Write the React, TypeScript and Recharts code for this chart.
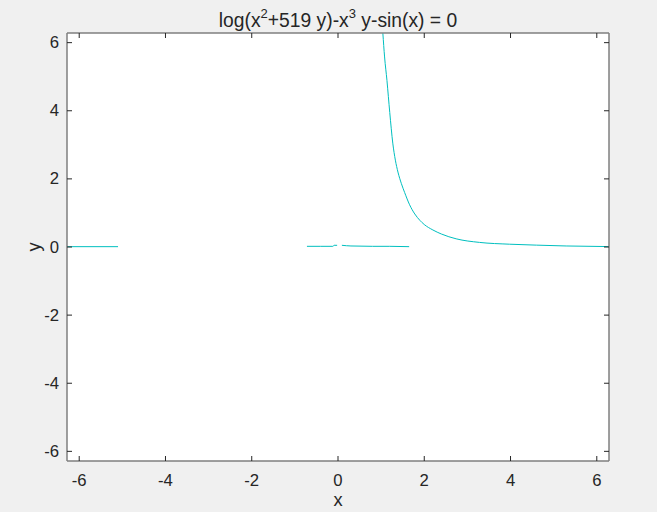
import { CartesianGrid, Line, LineChart, XAxis, YAxis } from "recharts";

// ticks
const xTicks = [-6, -4, -2, 0, 2, 4, 6];
const yTicks = [-6, -4, -2, 0, 2, 4, 6];

// pieces of the implicit curve
const leftX = [-6.2832, -5.1];
const leftY = [0.01, 0.01];

const midAX = [-0.72, -0.4, -0.12, -0.09, -0.02];
const midAY = [0.02, 0.02, 0.02, 0.05, 0.05];

const midBX = [0.09, 0.3, 0.8, 1.2, 1.65];
const midBY = [0.05, 0.03, 0.02, 0.02, 0.01];

const branchX = [1.04, 1.08, 1.135, 1.2, 1.27, 1.33, 1.39, 1.47, 1.545, 1.66, 1.78, 1.9, 2.0, 2.2, 2.4, 2.74, 3.28, 3.98, 4.6, 5.29, 6.2832];
const branchY = [6.28, 5.58, 4.89, 3.95, 3.05, 2.55, 2.2, 1.86, 1.6, 1.24, 0.97, 0.78, 0.66, 0.5, 0.38, 0.24, 0.135, 0.082, 0.055, 0.03, 0.012];

const zip = (xs: number[], ys: number[]) => xs.map((x, i) => ({ x, y: ys[i] }));

const segments = [
  zip(leftX, leftY),
  zip(midAX, midAY),
  zip(midBX, midBY),
  zip(branchX, branchY),
];

const lineColor = "#00bfbf";
const txtColor = "#262626";
const boxColor = "#7f7f7f";
const fontFam = "'Liberation Sans', Arial, sans-serif";
const DOM: [number, number] = [-2 * Math.PI, 2 * Math.PI];

const BottomTick = (p: any) => (
  <g>
    <line x1={p.x} x2={p.x} y1={p.y} y2={p.y - 5} stroke={txtColor} />
    <text x={p.x} y={p.y + 19} textAnchor="middle" dominantBaseline="central" fill={txtColor} fontSize={16.7} fontFamily={fontFam}>
      {p.payload.value}
    </text>
  </g>
);
const TopTick = (p: any) => <line x1={p.x} x2={p.x} y1={p.y} y2={p.y + 5} stroke={txtColor} />;
const LeftTick = (p: any) => (
  <g>
    <line x1={p.x} x2={p.x + 5} y1={p.y} y2={p.y} stroke={txtColor} />
    <text x={p.x - 8} y={p.y} textAnchor="end" dominantBaseline="central" fill={txtColor} fontSize={16.7} fontFamily={fontFam}>
      {p.payload.value}
    </text>
  </g>
);
const RightTick = (p: any) => <line x1={p.x} x2={p.x - 5} y1={p.y} y2={p.y} stroke={txtColor} />;

export default function App() {
  return (
    <div style={{ position: "absolute", left: 0, top: 0, width: 657, height: 512, background: "#f0f0f0" }}>
      <LineChart width={657} height={512} margin={{ top: 32, right: 47, bottom: 0, left: 0 }}>
        <CartesianGrid horizontal={false} vertical={false} fill="#ffffff" xAxisId="bottom" yAxisId="left" />
        <XAxis xAxisId="bottom" type="number" dataKey="x" domain={DOM} allowDataOverflow ticks={xTicks} interval={0}
          height={51} tickSize={0} tickMargin={0} tickLine={false} tick={<BottomTick />}
          axisLine={{ stroke: boxColor, strokeWidth: 1.5 }}
          label={{ value: "x", position: "insideBottom", offset: 6, fill: txtColor, fontSize: 18.3, fontFamily: fontFam }} />
        <XAxis xAxisId="top" orientation="top" type="number" dataKey="x" domain={DOM} allowDataOverflow ticks={xTicks} interval={0}
          height={1} tickSize={0} tickMargin={0} tickLine={false} tick={<TopTick />}
          axisLine={{ stroke: boxColor, strokeWidth: 1.5 }} />
        <YAxis yAxisId="left" type="number" dataKey="y" domain={DOM} allowDataOverflow ticks={yTicks} interval={0}
          width={67} tickSize={0} tickMargin={0} tickLine={false} tick={<LeftTick />}
          axisLine={{ stroke: boxColor, strokeWidth: 1.5 }}
          label={{
            value: "y",
            content: (lp: any) => {
              const vb = lp.viewBox || { x: 0, y: 33, width: 67, height: 428 };
              const cx = vb.x + 33;
              const cy = vb.y + vb.height / 2;
              return (
                <text x={cx} y={cy} transform={`rotate(-90 ${cx} ${cy})`} textAnchor="middle" dominantBaseline="central" fill={txtColor} fontSize={18.3} fontFamily={fontFam}>
                  y
                </text>
              );
            },
          }} />
        <YAxis yAxisId="right" orientation="right" type="number" dataKey="y" domain={DOM} allowDataOverflow ticks={yTicks} interval={0}
          width={1} tickSize={0} tickMargin={0} tickLine={false} tick={<RightTick />}
          axisLine={{ stroke: boxColor, strokeWidth: 1.5 }} />
        {segments.map((seg, i) => (
          <Line key={i} data={seg} xAxisId="bottom" yAxisId="left" dataKey="y" type="monotoneX" stroke={lineColor}
            strokeWidth={1} dot={false} activeDot={false} isAnimationActive={false} />
        ))}
      </LineChart>
      <svg width={657} height={40} style={{ position: "absolute", left: 0, top: 0, pointerEvents: "none" }}>
        <text x={338} y={27} textAnchor="middle" fill={txtColor} fontSize={19.3} fontFamily={fontFam}>
          log(x<tspan dy={-9} fontSize={13}>2</tspan>
          <tspan dy={9}>+519 y)-x</tspan>
          <tspan dy={-9} fontSize={13}>3</tspan>
          <tspan dy={9}>{" y-sin(x) = 0"}</tspan>
        </text>
      </svg>
    </div>
  );
}
